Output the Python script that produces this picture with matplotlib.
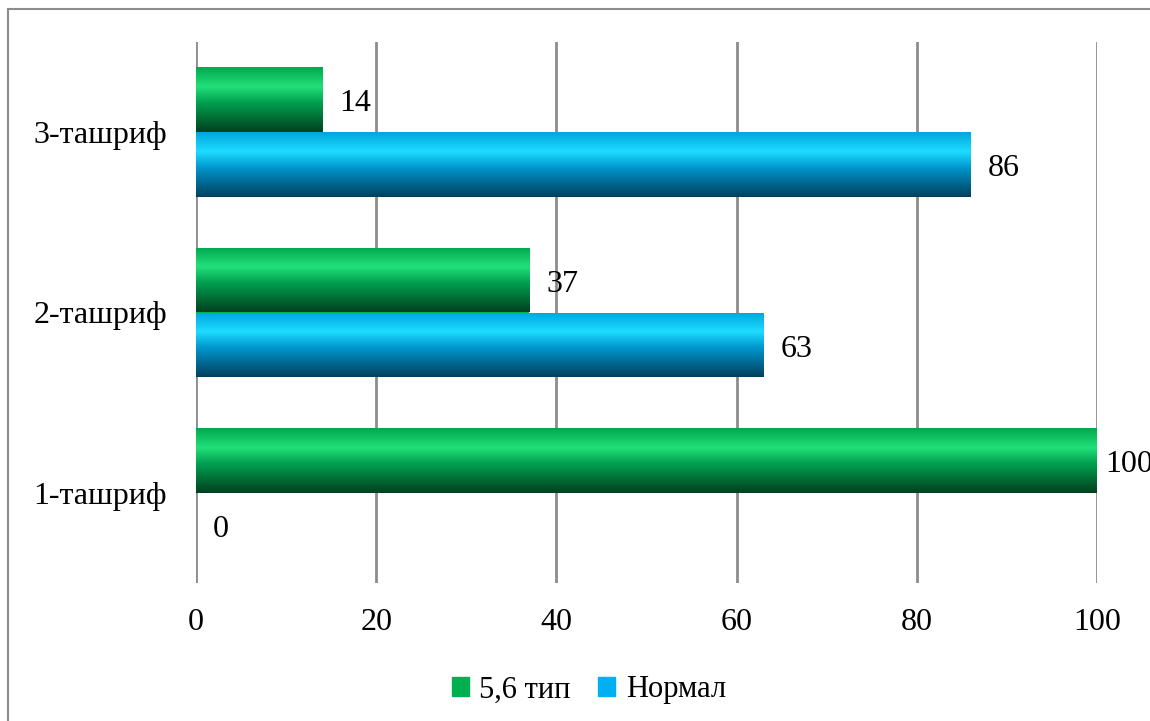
import matplotlib.pyplot as plt
from matplotlib.colors import LinearSegmentedColormap
from matplotlib.patches import Rectangle
import numpy as np

plt.rcParams['font.family'] = ['Liberation Serif', 'DejaVu Serif']

categories = ['1-ташриф', '2-ташриф', '3-ташриф']
type56 = [100, 37, 14]
normal = [0, 63, 86]
series_names = ['5,6 тип', 'Нормал']
xticks = [0, 20, 40, 60, 80, 100]

# gradients: top -> bottom of each bar
green_cmap = LinearSegmentedColormap.from_list(
    'g', [(0.0, '#00a84c'), (0.3, '#22e07a'), (0.55, '#00a050'), (1.0, '#00401e')])
blue_cmap = LinearSegmentedColormap.from_list(
    'b', [(0.0, '#00a6dc'), (0.3, '#1edcff'), (0.55, '#0096cc'), (1.0, '#003f5c')])

fig = plt.figure(figsize=(11.5, 7.21), dpi=100)
ax = fig.add_axes([196 / 1150, 1 - 583 / 721, (1097 - 196) / 1150, (583 - 42) / 721])

y = np.arange(len(categories))
h = 0.36
bars_g = ax.barh(y + h / 2, type56, height=h, color='#00b050', edgecolor='none', zorder=3)
bars_b = ax.barh(y - h / 2, normal, height=h, color='#00b0f0', edgecolor='none', zorder=3)

grad = np.linspace(0, 1, 256).reshape(-1, 1)
for bars, cmap in ((bars_g, green_cmap), (bars_b, blue_cmap)):
    for b in bars:
        x0, y0 = b.get_x(), b.get_y()
        w, hh = b.get_width(), b.get_height()
        if w <= 0:
            continue
        im = ax.imshow(grad, cmap=cmap, aspect='auto', extent=(x0, x0 + w, y0, y0 + hh),
                       origin='upper', zorder=4, interpolation='bilinear')
        im.set_clip_path(b)

for bars, vals in ((bars_g, type56), (bars_b, normal)):
    for b, v in zip(bars, vals):
        pad = 6 if v >= 100 else 12
        ax.annotate(str(v), (b.get_width(), b.get_y() + b.get_height() / 2),
                    xytext=(pad, -3), textcoords='offset points', va='center', ha='left',
                    fontsize=23, annotation_clip=False, zorder=5)

ax.set_xlim(0, 100)
ax.set_ylim(-0.5, 2.5)
ax.set_xticks(xticks)
ax.set_yticks(y)
ax.set_yticklabels(categories)
ax.tick_params(axis='both', length=0, labelsize=23)
ax.tick_params(axis='x', pad=18)
ax.tick_params(axis='y', pad=21)
for s in ax.spines.values():
    s.set_visible(False)
ax.xaxis.grid(True, color='#8c8c8c', linewidth=2, zorder=0)
ax.set_axisbelow(True)

handles = [Rectangle((0, 0), 1, 1, color='#00b050'), Rectangle((0, 0), 1, 1, color='#00b0f0')]
fig.legend(handles, series_names, loc='center', bbox_to_anchor=(0.512, 0.043), ncol=2,
           frameon=False, fontsize=22, handlelength=0.55, handleheight=0.55,
           handletextpad=0.35, columnspacing=0.9)

fig.patches.append(Rectangle((8 / 1150, -0.1), 1.2, 1 - 9 / 721 + 0.1,
                             transform=fig.transFigure, fill=False,
                             edgecolor='#8c8c8c', linewidth=1.5))

fig.savefig('out.png', dpi=100)
